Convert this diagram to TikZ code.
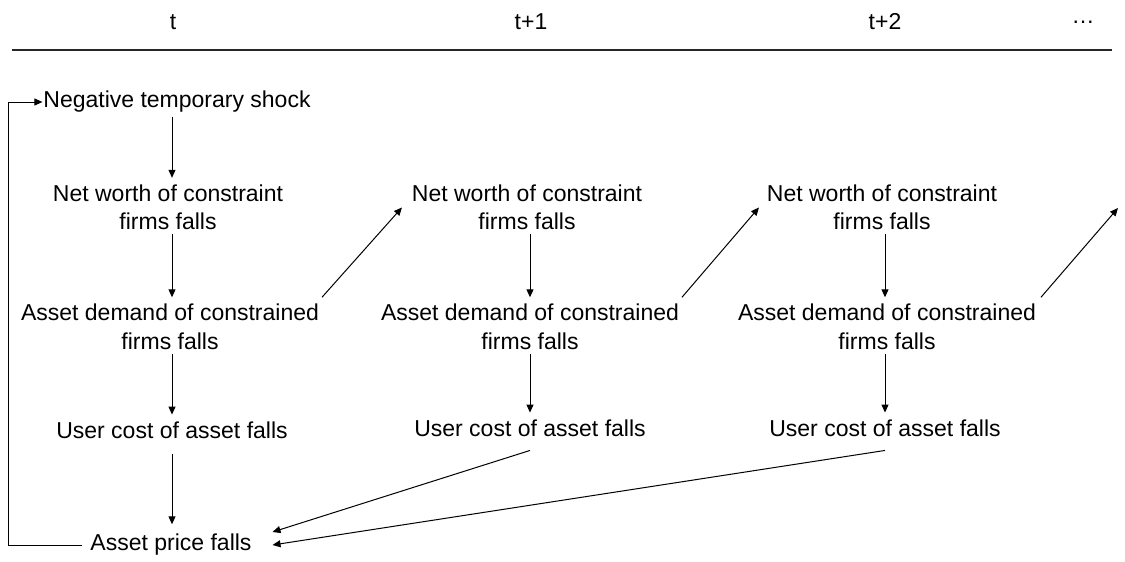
\documentclass[tikz,border=0pt]{standalone}
\usepackage{fontspec}
\setmainfont{Liberation Sans}
\usetikzlibrary{arrows.meta,calc}
\begin{document}
\begin{tikzpicture}[x=1pt,y=-1pt,
  lbl/.style={font=\fontsize{23}{28.5}\selectfont, align=center, inner sep=0pt, outer sep=0pt},
  arr/.style={-{Triangle[length=8pt,width=7pt]}, line width=1pt},
  vline/.style={arr, shorten <=4pt, shorten >=7pt},
  rule/.style={line width=1.3pt, black!85}]
\useasboundingbox (0,0) rectangle (1125,562);
% header
\node[lbl] (h0) at (173,22) {t};
\node[lbl] (h1) at (531,22) {t+1};
\node[lbl] (h2) at (885,22) {t+2};
\node[lbl] (h3) at (1083,22) {…};
\coordinate (rl) at (12,50);
\coordinate (rr) at (1112,50);
\draw[rule] (rl) -- (rr);
% column t
\node[lbl] (ns) at (177,102) {Negative temporary shock};
\node[lbl] (nw1) at (168,207.5) {Net worth of constraint\\firms falls};
\node[lbl] (ad1) at (170,327) {Asset demand of constrained\\firms falls};
\node[lbl] (uc1) at (172,430) {User cost of asset falls};
\node[lbl] (ap) at (171,545) {Asset price falls};
% column t+1
\node[lbl] (nw2) at (527,207.5) {Net worth of constraint\\firms falls};
\node[lbl] (ad2) at (530,327) {Asset demand of constrained\\firms falls};
\node[lbl] (uc2) at (530,428) {User cost of asset falls};
% column t+2
\node[lbl] (nw3) at (882,207.5) {Net worth of constraint\\firms falls};
\node[lbl] (ad3) at (887,327) {Asset demand of constrained\\firms falls};
\node[lbl] (uc3) at (885,428) {User cost of asset falls};
\coordinate (nx) at (1118,208);
\coordinate (lft) at (8,0);
% vertical arrows
\draw[vline] (ns.south -| 172,0) -- (nw1.north -| 172,0);
\draw[vline] (nw1.south -| 172,0) -- (ad1.north -| 172,0);
\draw[vline] (ad1.south -| 172,0) -- (uc1.north -| 172,0);
\draw[arr, shorten <=16pt, shorten >=10pt] (uc1.south -| 172,0) -- (ap.north -| 172,0);
\draw[vline] (nw2.south -| 530,0) -- (ad2.north -| 530,0);
\draw[vline] (ad2.south -| 530,0) -- (uc2.north -| 530,0);
\draw[vline] (nw3.south -| 885,0) -- (ad3.north -| 885,0);
\draw[vline] (ad3.south -| 885,0) -- (uc3.north -| 885,0);
% diagonal arrows to next period
\draw[arr] ([shift={(3pt,7pt)}]ad1.north east) -- ([xshift=-10pt]nw2.west);
\draw[arr] ([shift={(3pt,7pt)}]ad2.north east) -- ([xshift=-8pt]nw3.west);
\draw[arr] ([shift={(5pt,7pt)}]ad3.north east) -- (nx);
% user cost to asset price
\draw[arr] ([yshift=-14pt]uc2.south) -- ([shift={(21pt,13pt)}]ap.east);
\draw[arr] ([yshift=-14pt]uc3.south) -- ([xshift=21pt]ap.east);
% feedback loop
\draw[arr, shorten <=8pt, shorten >=1pt] (ap.west) -- (ap.west -| lft) |- (ns.west);
\end{tikzpicture}
\end{document}
